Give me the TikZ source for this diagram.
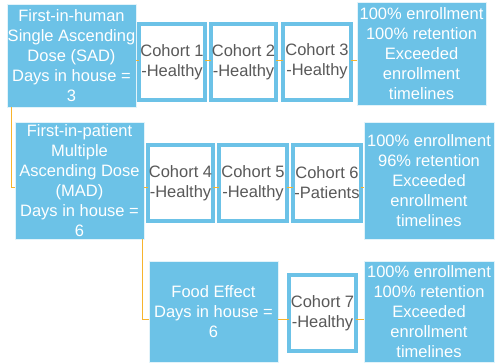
\documentclass[tikz,border=0pt]{standalone}
\usepackage{fontspec}
\setmainfont{Liberation Sans}
\definecolor{boxblue}{RGB}{108,194,231}
\definecolor{linkorange}{RGB}{247,180,45}
\definecolor{cohortgray}{RGB}{89,89,89}
\begin{document}
\begin{tikzpicture}[x=1pt,y=-1pt,
  every node/.style={inner sep=0pt,outer sep=0pt,align=center,font=\fontsize{16.5}{20}\selectfont},
  phase/.style={rectangle,fill=boxblue,draw=white!80!boxblue,line width=0.8pt,text=white},
  cohort/.style={rectangle,fill=white,draw=boxblue,line width=4pt,text=cohortgray,
     minimum height=76pt},
  link/.style={draw=linkorange,line width=0.9pt}]
\useasboundingbox (0,0) rectangle (495,362);
% row 1
\node[phase,minimum width=129pt,minimum height=103pt] (sad) at (71.5,55.5)
  {First-in-human\\Single Ascending\\Dose (SAD)\\Days in house =\\3};
\node[cohort,minimum width=66pt] (c1) at (172,62) {Cohort 1\\-Healthy};
\node[cohort,minimum width=65pt] (c2) at (243.5,62) {Cohort 2\\-Healthy};
\node[cohort,minimum width=68pt] (c3) at (317,61.5) {Cohort 3\\-Healthy};
\node[phase,minimum width=129pt,minimum height=103pt] (r1) at (421.5,53.5)
  {100\% enrollment\\100\% retention\\Exceeded\\enrollment\\timelines};
% row 2
\node[phase,minimum width=129pt,minimum height=117pt] (mad) at (79.5,180.5)
  {First-in-patient\\Multiple\\Ascending Dose\\(MAD)\\Days in house =\\6};
\node[cohort,minimum width=65pt] (c4) at (180.5,183) {Cohort 4\\-Healthy};
\node[cohort,minimum width=68pt] (c5) at (253,183) {Cohort 5\\-Healthy};
\node[cohort,minimum width=68pt] (c6) at (327,183) {Cohort 6\\-Patients};
\node[phase,minimum width=130pt,minimum height=117pt] (r2) at (429,180.5)
  {100\% enrollment\\96\% retention\\Exceeded\\enrollment\\timelines};
% row 3
\node[phase,minimum width=129pt,minimum height=101pt] (food) at (213.5,311.5)
  {Food Effect\\Days in house =\\6};
\node[cohort,minimum width=67pt] (c7) at (322.5,313) {Cohort 7\\-Healthy};
\node[phase,minimum width=130pt,minimum height=101pt] (r3) at (429,311.5)
  {100\% enrollment\\100\% retention\\Exceeded\\enrollment\\timelines};
% connectors
\draw[link] ([yshift=-4.5pt]sad.east) -- ([yshift=2pt]c1.west);
\draw[link] ([yshift=2pt]c1.east) -- ([yshift=2pt]c2.west);
\draw[link] ([yshift=2pt]c2.east) -- ([yshift=1.5pt]c3.west);
\draw[link] ([yshift=1.5pt]c3.east) -- ([yshift=-6.5pt]r1.west);
\draw[link] ([xshift=4pt]sad.south west) |- ([yshift=-6.5pt]mad.west);
\draw[link] ([yshift=-6.5pt]mad.east) -- ([yshift=-4pt]c4.west);
\draw[link] ([yshift=-4pt]c4.east) -- ([yshift=-4pt]c5.west);
\draw[link] ([yshift=-4pt]c5.east) -- ([yshift=-4pt]c6.west);
\draw[link] ([yshift=-4pt]c6.east) -- ([yshift=-6.5pt]r2.west);
\draw[link] ([xshift=-2pt]mad.south east) |- ([yshift=-7.5pt]food.west);
\draw[link] ([yshift=-7.5pt]food.east) -- ([yshift=-6pt]c7.west);
\draw[link] ([yshift=-6pt]c7.east) -- ([yshift=-7.5pt]r3.west);
\end{tikzpicture}
\end{document}
